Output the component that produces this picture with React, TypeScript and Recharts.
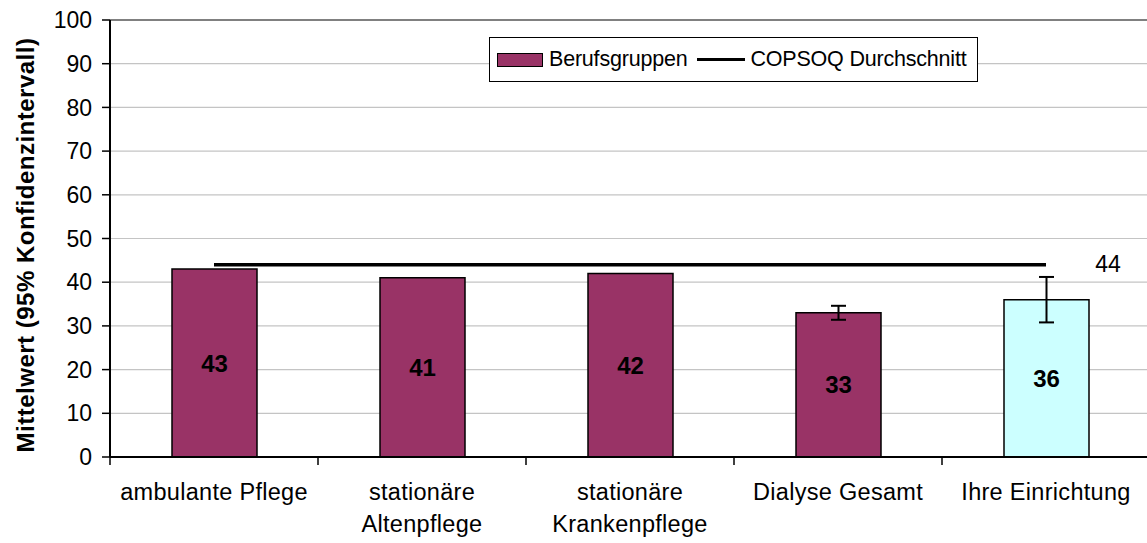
import React from 'react';
import {
  ComposedChart,
  Bar,
  Line,
  XAxis,
  YAxis,
  CartesianGrid,
  Cell,
  LabelList,
  ErrorBar,
  ReferenceLine,
  Legend,
  Label,
} from 'recharts';

const categories = [
  'ambulante Pflege',
  'stationäre\nAltenpflege',
  'stationäre\nKrankenpflege',
  'Dialyse Gesamt',
  'Ihre Einrichtung',
];
const groupValues = [43, 41, 42, 33, 36];
const errorValues: (number | null)[] = [null, null, null, 1.6, 5.2];
const averageValues = [44, 44, 44, 44, 44];
const barColors = ['#993366', '#993366', '#993366', '#993366', '#CCFFFF'];
const yTicks = [0, 10, 20, 30, 40, 50, 60, 70, 80, 90, 100];
const seriesNames = ['Berufsgruppen', 'COPSOQ Durchschnitt'];
const axisTitle = 'Mittelwert (95% Konfidenzintervall)';

const data = categories.map((name, i) => ({
  name,
  value: groupValues[i],
  err: errorValues[i],
  avg: averageValues[i],
}));

const FONT = '"Liberation Sans", Arial, sans-serif';
const CHART_W = 1152;
const CHART_H = 543;
const MARGIN = { top: 20, right: 2, bottom: 0, left: 0 };
const Y_AXIS_W = 110;
const X_AXIS_H = 86;
const BAND = (CHART_W - MARGIN.left - MARGIN.right - Y_AXIS_W) / categories.length;

const CategoryTick = (props: any) => {
  const { x, y, payload, index } = props;
  const half = typeof payload?.offset === 'number' && payload.offset > 0 ? payload.offset : BAND / 2;
  const lines = String(payload.value).split('\n');
  return (
    <g>
      <line x1={x - half} x2={x - half} y1={y} y2={y + 8} stroke="#000" strokeWidth={1.5} />
      {index === categories.length - 1 && (
        <line x1={x + half} x2={x + half} y1={y} y2={y + 8} stroke="#000" strokeWidth={1.5} />
      )}
      {lines.map((ln, i) => (
        <text
          key={i}
          x={x}
          y={y + 43 + i * 32}
          textAnchor="middle"
          fontFamily={FONT}
          fontSize={23.5}
          letterSpacing={0.3}
          fill="#000"
        >
          {ln}
        </text>
      ))}
    </g>
  );
};

const AvgLabel = (props: any) => {
  const { x, y, index, value } = props;
  if (index !== averageValues.length - 1) return null;
  return (
    <text x={x + 62} y={y} dy={7} textAnchor="middle" fontFamily={FONT} fontSize={23} fill="#000">
      {value}
    </text>
  );
};

const LegendBox = () => (
  <div
    style={{
      boxSizing: 'border-box',
      width: '100%',
      height: '100%',
      border: '1.5px solid #000',
      background: '#fff',
      display: 'flex',
      alignItems: 'center',
      paddingLeft: 7,
      fontFamily: FONT,
      fontSize: 21.5,
      letterSpacing: -0.2,
      color: '#000',
      whiteSpace: 'nowrap',
    }}
  >
    <span
      style={{
        display: 'inline-block',
        width: 46,
        height: 14,
        background: barColors[0],
        border: '1.5px solid #000',
        boxSizing: 'border-box',
        marginRight: 6,
      }}
    />
    <span>{seriesNames[0]}</span>
    <span
      style={{
        display: 'inline-block',
        width: 48,
        height: 3,
        background: '#000',
        marginLeft: 10,
        marginRight: 5,
      }}
    />
    <span>{seriesNames[1]}</span>
  </div>
);

export default function App() {
  return (
    <div
      style={{
        position: 'absolute',
        left: 0,
        top: 0,
        width: 1147,
        height: 543,
        overflow: 'hidden',
        background: '#fff',
      }}
    >
      <ComposedChart width={CHART_W} height={CHART_H} data={data} margin={MARGIN}>
        <CartesianGrid vertical={false} stroke="#c4c4c4" strokeWidth={1.2} />
        <YAxis
          type="number"
          domain={[0, 100]}
          ticks={yTicks}
          interval={0}
          width={Y_AXIS_W}
          tickSize={8}
          tickMargin={10}
          axisLine={{ stroke: '#000', strokeWidth: 2 }}
          tickLine={{ stroke: '#000', strokeWidth: 1.5 }}
          tick={{ fontFamily: FONT, fontSize: 23, fill: '#000' }}
        >
          <Label
            content={() => (
              <text
                x={25}
                y={245}
                transform="rotate(-90 25 245)"
                textAnchor="middle"
                dominantBaseline="central"
                fontFamily={FONT}
                fontWeight="bold"
                fontSize={24}
                letterSpacing={0.5}
                fill="#000"
              >
                {axisTitle}
              </text>
            )}
          />
        </YAxis>
        <XAxis
          dataKey="name"
          type="category"
          height={X_AXIS_H}
          interval={0}
          tickSize={0}
          tickMargin={0}
          tickLine={false}
          axisLine={{ stroke: '#000', strokeWidth: 2 }}
          tick={<CategoryTick />}
        />
        <ReferenceLine y={100} stroke="#808080" strokeWidth={2} />
        <Legend
          layout="horizontal"
          verticalAlign="middle"
          align="center"
          wrapperStyle={{ left: 489, top: 37, width: 489, height: 45, right: 'auto', bottom: 'auto' }}
          content={<LegendBox />}
        />
        <Bar dataKey="value" barSize={85} stroke="#000" strokeWidth={1.5} isAnimationActive={false}>
          {data.map((d, i) => (
            <Cell key={d.name} fill={barColors[i]} />
          ))}
          <LabelList
            dataKey="value"
            position="center"
            fontFamily={FONT}
            fontSize={24}
            fontWeight="bold"
            fill="#000"
          />
          <ErrorBar dataKey="err" width={7.5} stroke="#000" strokeWidth={2} direction="y" />
        </Bar>
        <Line
          dataKey="avg"
          type="linear"
          stroke="#000"
          strokeWidth={3.5}
          dot={false}
          activeDot={false}
          isAnimationActive={false}
        >
          <LabelList dataKey="avg" content={<AvgLabel />} />
        </Line>
      </ComposedChart>
    </div>
  );
}
